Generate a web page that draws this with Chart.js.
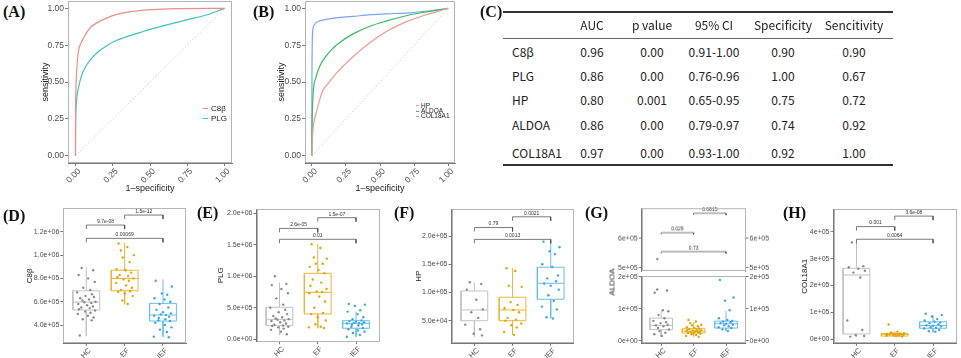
<!DOCTYPE html>
<html><head><meta charset="utf-8">
<script src="https://cdn.jsdelivr.net/npm/chart.js@4.4.1/dist/chart.umd.min.js"></script>
<style>
body{margin:0;background:#fff;width:961px;height:358px;position:relative;overflow:hidden;font-family:"Liberation Sans",Arial,sans-serif}
canvas{position:absolute}
.plab{position:absolute;font-family:"Liberation Serif","Times New Roman",serif;font-size:16px;font-weight:bold;line-height:16px;color:#111}
.leg{position:absolute;font-family:"Liberation Sans",Arial,sans-serif;color:#222;white-space:nowrap}
.leg i{display:inline-block;vertical-align:middle;border-top:1.2px solid;margin-right:3px}
.tc{position:absolute;font-family:"Noto Sans CJK SC","Noto Sans",sans-serif;font-size:12px;color:#222;white-space:nowrap;line-height:14px}
.tl{position:absolute;background:#333}
.ytit{position:absolute;font-size:8px;color:#222;transform:translate(-50%,-50%) rotate(-90deg);white-space:nowrap}
</style></head><body>
<script>
// ---------------- DATA ----------------
// ROC curves (1-specificity, sensitivity)
const rocC8bFpr  = [0,0.001,0.003,0.01,0.02,0.04,0.066,0.1,0.158,0.2,0.27,0.35,0.43,0.55,0.7,1];
const rocC8bSens = [0,0.3,0.44,0.6,0.71,0.77,0.82,0.87,0.91,0.93,0.957,0.975,0.985,0.993,0.998,1];
const rocPLGFpr  = [0,0.001,0.003,0.01,0.02,0.04,0.066,0.1,0.158,0.2,0.27,0.35,0.43,0.5,0.6,0.7,0.8,0.9,1];
const rocPLGSens = [0,0.2,0.3,0.4,0.46,0.54,0.6,0.65,0.71,0.74,0.78,0.81,0.835,0.857,0.885,0.91,0.935,0.962,1];
const rocHPFpr   = [0,0.003,0.01,0.035,0.08,0.12,0.18,0.3,0.43,0.55,0.67,0.8,0.92,1];
const rocHPSens  = [0,0.1,0.19,0.3,0.44,0.49,0.56,0.67,0.77,0.845,0.9,0.945,0.978,1];
const rocALDOAFpr  = [0,0.002,0.01,0.03,0.06,0.1,0.15,0.2,0.3,0.43,0.55,0.67,0.8,0.9,1];
const rocALDOASens = [0,0.2,0.42,0.53,0.61,0.67,0.725,0.765,0.825,0.88,0.915,0.945,0.97,0.985,1];
const rocCOLFpr  = [0,0.001,0.003,0.008,0.02,0.035,0.08,0.18,0.3,0.43,0.6,0.72,0.85,1];
const rocCOLSens = [0,0.5,0.75,0.86,0.89,0.905,0.92,0.935,0.945,0.957,0.965,0.97,0.982,1];
const rocTicks = [0,0.25,0.5,0.75,1];
const rocTickLabels = ["0.00","0.25","0.50","0.75","1.00"];

// Table (C)
const tableHeaders = ["AUC","p value","95% CI","Specificity","Sencitivity"];
const tableRowNames = ["C8β","PLG","HP","ALDOA","COL18A1"];
const tableAUC  = ["0.96","0.86","0.80","0.86","0.97"];
const tableP    = ["0.00","0.00","0.001","0.00","0.00"];
const tableCI   = ["0.91-1.00","0.76-0.96","0.65-0.95","0.79-0.97","0.93-1.00"];
const tableSpec = ["0.90","1.00","0.75","0.74","0.92"];
const tableSens = ["0.90","0.67","0.72","0.92","1.00"];

// Box plots: categories, stats [lower whisker, Q1, median, Q3, upper whisker], points
const groups = ["HC","EF","IEF"];
const groupTicks = [1,2,3];
const dStats = [[306000,529000,597000,694000,898000],[578000,694000,800000,870000,1106000],[300000,434000,486000,586000,792000]];
const dHC  = [890000,870000,830000,800000,770000,720000,700000,680000,665000,650000,640000,630000,620000,610000,600000,595000,590000,580000,570000,560000,550000,545000,535000,525000,515000,505000,495000,480000,465000,450000,440000,310000];
const dEF  = [1100000,1070000,1040000,1000000,980000,940000,880000,870000,850000,830000,820000,810000,800000,790000,780000,760000,740000,720000,700000,690000,685000,670000,650000,610000,580000];
const dIEF = [780000,730000,670000,660000,630000,620000,600000,580000,550000,530000,510000,500000,490000,485000,480000,470000,460000,450000,440000,435000,420000,400000,380000,360000,340000,300000,295000];
const dTicks = [400000,600000,800000,1000000,1200000];
const dTickLabels = ["4.0e+05","6.0e+05","8.0e+05","1.0e+06","1.2e+06"];
const dBrackets = [[1,2,1258000,"9.7e-08"],[2,3,1344000,"1.5e-12"],[1,3,1144000,"0.00069"]];

const eStats = [[68000,216000,317000,508000,900000],[175000,402000,746000,1047000,1513000],[41000,175000,254000,295000,438000]];
const eHC  = [1000000,880000,860000,800000,730000,650000,550000,500000,470000,430000,400000,370000,350000,330000,320000,310000,300000,290000,270000,250000,230000,220000,210000,200000,190000,170000,150000,120000,80000];
const eEF  = [1510000,1450000,1300000,1280000,1200000,1200000,1150000,1100000,1050000,950000,900000,850000,800000,760000,750000,730000,680000,600000,500000,420000,400000,350000,300000,240000,200000,190000,180000];
const eIEF = [560000,550000,530000,460000,440000,400000,350000,320000,300000,290000,280000,270000,260000,255000,250000,240000,230000,220000,200000,180000,160000,140000,120000,100000,70000,40000];
const eTicks = [0,500000,1000000,1500000,2000000];
const eTickLabels = ["0.0e+00","5.0e+05","1.0e+06","1.5e+06","2.0e+06"];
const eBrackets = [[1,2,1760000,"2.6e-05"],[2,3,1930000,"1.5e-07"],[1,3,1587000,"0.01"]];

const fStats = [[22000,50000,69000,102700,117400],[24700,50000,69000,91500,143000],[54000,88000,116300,144700,191300]];
const fHC  = [118000,115000,105000,87000,70000,65000,55000,43000,35000,27000,24000];
const fEF  = [143000,138000,112000,110000,83000,78000,72000,69000,65000,55000,52000,50000,45000,42000,38000,30000,25000];
const fIEF = [190000,180000,173000,168000,150000,145000,130000,125000,120000,116000,112000,105000,95000,85000,75000,70000,56000,54000];
const fTicks = [50000,100000,150000,200000];
const fTickLabels = ["5.0e+04","1.0e+05","1.5e+05","2.0e+05"];
const fBrackets = [[1,2,215000,"0.79"],[2,3,234000,"0.0021"],[1,3,194000,"0.0013"]];

const gStats = [[13400,34400,47800,70600,92500],[13000,24000,30000,37500,58000],[30000,39400,53000,61000,92500]];
const gHC  = [530000,160000,157000,150000,95000,92000,80000,70000,62000,58000,55000,50000,48000,45000,40000,35000,30000,25000,20000,15000];
const gEF  = [65000,60000,55000,50000,48000,45000,42000,40000,38000,37000,35000,34000,33000,32000,30000,30000,29000,28000,27000,26000,25000,24000,22000,20000,18000,15000,12000];
const gIEF = [190000,135000,125000,95000,70000,65000,62000,60000,58000,55000,53000,50000,48000,45000,42000,40000,35000,30000];
const gTopTicks = [500000,600000];
const gTopTickLabels = ["5e+05","6e+05"];
const gLowTicks = [0,100000,200000];
const gLowTickLabels = ["0e+00","1e+05","2e+05"];
const gBrackets = [[2,3,687000,"0.0015"],[1,2,620000,"0.029"],[1,3,555000,"0.73"]];

const hStats = [[10000,19700,239000,264000,360000],[10000,12000,18000,22000,30000],[26000,41000,51000,65000,90000]];
const hHC  = [360000,272000,268000,262000,255000,248000,230000,70000,35000,15000,12000,10000];
const hEF  = [55000,28000,25000,23000,22000,21000,20000,20000,19000,18000,18000,17000,16000,15000,14000,13000,12000,10000];
const hIEF = [95000,90000,85000,75000,70000,65000,62000,60000,55000,52000,50000,48000,45000,42000,40000,35000,30000,28000];
const hTicks = [0,100000,200000,300000,400000];
const hTickLabels = ["0e+00","1e+05","2e+05","3e+05","4e+05"];
const hBrackets = [[1,2,419000,"0.001"],[2,3,458000,"3.6e-08"],[1,3,372000,"0.0064"]];

// jitter offsets (category units)
const jitter = [-0.12,0.18,-0.2,0.05,0.22,-0.08,0.1,-0.24,0.15,-0.02,0.2,-0.16,0.07,-0.1,0.24,-0.05,0.13,-0.21,0.02,0.17,-0.13,0.09,-0.19,0.23,-0.03,0.11,-0.22,0.04,0.19,-0.09,0.14,-0.17,0.0,0.21,-0.06,0.08,-0.23,0.16,-0.11,0.06];

// ---------------- RENDER ----------------
Chart.defaults.font.family = '"Liberation Sans", Arial, sans-serif';
Chart.defaults.animation = false;
Chart.defaults.plugins.legend.display = false;
Chart.defaults.plugins.tooltip.enabled = false;
Chart.defaults.events = [];

const framePlugin = {
  id:'frame',
  afterDraw(chart){
    const a = chart.chartArea, ctx = chart.ctx;
    ctx.save(); ctx.strokeStyle = '#b5b5b5'; ctx.lineWidth = 1;
    ctx.strokeRect(Math.round(a.left)+0.5, Math.round(a.top)+0.5, Math.round(a.right-a.left)-1, Math.round(a.bottom-a.top)-1);
    ctx.restore();
  }
};
const labelPlugin = {
  id:'blabels',
  afterDatasetsDraw(chart, args, opts){
    if(!opts || !opts.items || !opts.items.length) return;
    const ctx = chart.ctx, xs = chart.scales.x, ys = chart.scales.y;
    ctx.save(); ctx.fillStyle = '#333'; ctx.font = '5px "Liberation Sans", Arial, sans-serif';
    ctx.textAlign = 'center'; ctx.textBaseline = 'bottom';
    opts.items.forEach(b => { ctx.fillText(b[3], xs.getPixelForValue((b[0]+b[1])/2), ys.getPixelForValue(b[2]) - 1); });
    ctx.restore();
  }
};
// rotated (45°) x tick labels, anchored by their top-right corner under each tick
const xLabelPlugin = {
  id:'xlab',
  afterDraw(chart, args, opts){
    if(!opts || !opts.labels) return;
    const ctx = chart.ctx, xs = chart.scales.x;
    ctx.save(); ctx.fillStyle = '#4d4d4d'; ctx.font = opts.size+'px "Liberation Sans", Arial, sans-serif';
    ctx.textAlign = 'right'; ctx.textBaseline = 'top';
    opts.values.forEach((v,i) => {
      ctx.save();
      ctx.translate(xs.getPixelForValue(v) + 1, xs.top + opts.gap);
      ctx.rotate(-Math.PI/4);
      ctx.fillText(opts.labels[i], 0, 0);
      ctx.restore();
    });
    ctx.restore();
  }
};

function mkCanvas(c){
  const cv = document.createElement('canvas');
  cv.width = c.w; cv.height = c.h;
  cv.style.left = c.x+'px'; cv.style.top = c.y+'px'; cv.style.width = c.w+'px'; cv.style.height = c.h+'px';
  document.body.appendChild(cv); return cv;
}
function zeroPad(s){ s.paddingLeft = s.paddingRight = s.paddingTop = s.paddingBottom = 0; }
function valScale(o){
  return {
    type:'linear', position:o.pos, min:o.min, max:o.max,
    afterBuildTicks: s => { s.ticks = o.ticks.map(v => ({value:v})); },
    afterFit: s => { if(o.horiz) s.height = o.size; else s.width = o.size; zeroPad(s); },
    ticks:{ display:!o.horiz, callback:(v,i) => o.labels[i], font:{size:o.fs}, color:'#4d4d4d', padding:1, autoSkip:false, minRotation:0, maxRotation:0 },
    grid:{ display:true, drawOnChartArea:false, drawTicks:true, tickLength:o.tl||3, color:'#555', tickColor:'#555', tickWidth:0.8 },
    border:{ display:true, color:'#555', width:0.8 },
    title: o.title ? {display:true, text:o.title, font:{size:o.tfs}, color:'#222', padding:0} : {display:false}
  };
}

function rocChart(c, f, lines){
  const cv = mkCanvas(c);
  const datasets = lines.map(l => ({data:l.fpr.map((x,i)=>({x:x, y:l.sens[i]})), borderColor:l.color, borderWidth:1.2,
      pointRadius:0, cubicInterpolationMode:'monotone', fill:false}));
  datasets.push({data:[{x:0,y:0},{x:1,y:1}], borderColor:'#c4c4c4', borderWidth:0.8, borderDash:[1.5,2], pointRadius:0});
  new Chart(cv, {type:'line', data:{datasets},
    options:{responsive:false, devicePixelRatio:1, animation:false,
      layout:{autoPadding:false, padding:{left:0, top:f.T-c.y, right:c.x+c.w-f.R, bottom:0}},
      scales:{
        x: valScale({pos:'bottom', horiz:true, size:c.y+c.h-f.B, min:-0.05, max:1.05, ticks:rocTicks, labels:rocTickLabels, title:'1\u2013specificity', tfs:9}),
        y: valScale({pos:'left', size:f.L-c.x, min:-0.05, max:1.05, ticks:rocTicks, labels:rocTickLabels, fs:8.5, title:'sensitivity', tfs:9})
      },
      plugins:{xlab:{values:rocTicks, labels:rocTickLabels, size:8.5, gap:4}}},
    plugins:[framePlugin, xLabelPlugin]});
}

rocChart({x:40,y:0,w:200,h:194},{L:68,T:1,R:232,B:163},[
  {fpr:rocC8bFpr, sens:rocC8bSens, color:'#f08d85'},
  {fpr:rocPLGFpr, sens:rocPLGSens, color:'#3cc3c6'}]);
rocChart({x:276,y:0,w:184,h:194},{L:305,T:1,R:455,B:163},[
  {fpr:rocHPFpr, sens:rocHPSens, color:'#f09a92'},
  {fpr:rocALDOAFpr, sens:rocALDOASens, color:'#3cba64'},
  {fpr:rocCOLFpr, sens:rocCOLSens, color:'#7aa5f2'}]);

const grpColors = ['#8a8a8a','#e3a407','#3fa6e0'];
const boxColors = ['#c2c2c2','#e8b63e','#6abde9'];
const HALF = 0.35;

function boxDatasets(stats, pts, yMin, yMax){
  const ds = [];
  stats.forEach((s,g) => {
    const x = g+1, [lo,q1,md,q3,hi] = s;
    const gap = {x:x, y:null};
    const raw = [
      {x:x-HALF,y:q1},{x:x+HALF,y:q1},{x:x+HALF,y:q3},{x:x-HALF,y:q3},{x:x-HALF,y:q1}, gap,
      {x:x-HALF,y:md},{x:x+HALF,y:md}, gap,
      {x:x,y:q3},{x:x,y:hi}, gap, {x:x,y:q1},{x:x,y:lo}];
    const data = raw.map(p => (p.y!==null && (p.y<yMin || p.y>yMax)) ? {x:p.x,y:null} : p);
    ds.push({data, borderColor:boxColors[g], borderWidth:1, pointRadius:0, spanGaps:false, order:2});
  });
  pts.forEach((arr,g) => {
    const data = arr.filter(v => v>=yMin && v<=yMax).map((v,i) => ({x:g+1+jitter[(i+11*g)%jitter.length], y:v}));
    ds.push({data, showLine:false, pointRadius:1.2, pointBorderWidth:0, pointBackgroundColor:grpColors[g], order:0});
  });
  return ds;
}
function bracketDataset(br, yMin, yMax){
  const leg = 0.03*(yMax-yMin), data = [];
  br.forEach(b => { data.push({x:b[0],y:b[2]-leg},{x:b[0],y:b[2]},{x:b[1],y:b[2]},{x:b[1],y:b[2]-leg},{x:b[1],y:null}); });
  return {data, borderColor:'#444', borderWidth:0.7, pointRadius:0, spanGaps:false, order:1};
}

function boxChart(o){
  const c = o.c, f = o.f;
  const cv = mkCanvas(c);
  const datasets = boxDatasets(o.stats, o.pts, o.min, o.max);
  if(o.brackets) datasets.push(bracketDataset(o.brackets, o.min, o.max));
  const showX = o.showX!==false;
  const scales = {
    x: Object.assign(valScale({pos:'bottom', horiz:true, size:c.y+c.h-f.B, min:0.4, max:3.6, ticks:groupTicks, labels:groups, tl:2.5}), {display:showX}),
    y: valScale({pos:'left', size:f.L-c.x, min:o.min, max:o.max, ticks:o.ticks, labels:o.labels, fs:7, title:o.title, tfs:8})
  };
  if(o.right){
    scales.y2 = valScale({pos:'right', size:c.x+c.w-f.R, min:o.min, max:o.max, ticks:o.ticks, labels:o.labels, fs:7});
  }
  new Chart(cv, {type:'line', data:{datasets},
    options:{responsive:false, devicePixelRatio:1, animation:false,
      layout:{autoPadding:false, padding:{left:0, top:f.T-c.y, right:o.right?0:c.x+c.w-f.R, bottom:showX?0:c.y+c.h-f.B}},
      scales, plugins:{blabels:{items:o.brackets||[]}, xlab: showX ? {values:groupTicks, labels:groups, size:7.5, gap:3.5} : {}}},
    plugins:[framePlugin, labelPlugin, xLabelPlugin]});
}

boxChart({c:{x:25,y:198,w:167,h:160}, f:{L:63.3,T:208.3,R:186,B:343.3}, min:243000, max:1402000,
  stats:dStats, pts:[dHC,dEF,dIEF], ticks:dTicks, labels:dTickLabels, brackets:dBrackets, title:'C8\u03b2'});
boxChart({c:{x:216,y:198,w:169,h:160}, f:{L:256.5,T:209,R:379,B:341.7}, min:-38000, max:2068000,
  stats:eStats, pts:[eHC,eEF,eIEF], ticks:eTicks, labels:eTickLabels, brackets:eBrackets, title:'PLG'});
boxChart({c:{x:414,y:198,w:166,h:160}, f:{L:451.5,T:209.3,R:573.6,B:343.3}, min:10000, max:247300,
  stats:fStats, pts:[fHC,fEF,fIEF], ticks:fTicks, labels:fTickLabels, brackets:fBrackets, title:'HP'});
boxChart({c:{x:614,y:198,w:156,h:76.7}, f:{L:641.7,T:208.3,R:745.5,B:272.7}, min:488700, max:703300, right:true, showX:false,
  stats:gStats, pts:[gHC,gEF,gIEF], ticks:gTopTicks, labels:gTopTickLabels, brackets:gBrackets});
boxChart({c:{x:614,y:274,w:156,h:84}, f:{L:641.7,T:276,R:745.5,B:343.3}, min:-8100, max:202200, right:true,
  stats:gStats, pts:[gHC,gEF,gIEF], ticks:gLowTicks, labels:gLowTickLabels});
boxChart({c:{x:800,y:198,w:161,h:160}, f:{L:833.5,T:209.3,R:956,B:343.3}, min:-14900, max:483300,
  stats:hStats, pts:[hHC,hEF,hIEF], ticks:hTicks, labels:hTickLabels, brackets:hBrackets, title:'COL18A1'});

// ---- HTML text: panel labels, legends, table ----
function addDiv(cls, html, css){ const d=document.createElement('div'); d.className=cls; d.innerHTML=html; Object.assign(d.style, css); document.body.appendChild(d); return d; }
[['(A)',3,4],['(B)',253,4],['(C)',480,4],['(D)',3,208],['(E)',197,205],['(F)',394,205],['(G)',585,205],['(H)',783,205]]
  .forEach(p => addDiv('plab', p[0], {left:p[1]+'px', top:p[2]+'px'}));
addDiv('ytit','ALDOA',{left:'612px', top:'282px'});

// legends
[['C8\u03b2','#f08d85',104],['PLG','#3cc3c6',113.5]].forEach(l =>
  addDiv('leg', '<i style="width:5px;border-color:'+l[1]+'"></i>'+l[0], {left:'203px', top:l[2]+'px', fontSize:'8px', lineHeight:'9px'}));
[['HP','#f09a92',101.5],['ALDOA','#3cba64',106.8],['COL18A1','#7aa5f2',112.1]].forEach(l =>
  addDiv('leg', '<i style="width:3px;border-color:'+l[1]+';margin-right:2px"></i>'+l[0], {left:'416px', top:l[2]+'px', fontSize:'6.5px', lineHeight:'7px'}));

// table
const colX = [592,652,714,783,854];
const rowY = [52,76,100,125,153];
addDiv('tl','',{left:'503px', top:'11px', width:'390px', height:'1.6px'});
addDiv('tl','',{left:'503px', top:'38px', width:'390px', height:'0.8px', background:'#666'});
addDiv('tl','',{left:'503px', top:'164px', width:'390px', height:'1.6px'});
tableHeaders.forEach((h,i) => addDiv('tc', h, {left:(colX[i]-50)+'px', width:'100px', textAlign:'center', top:(25-7)+'px'}));
const cols = [tableAUC, tableP, tableCI, tableSpec, tableSens];
tableRowNames.forEach((r,j) => {
  addDiv('tc', r, {left:'512px', top:(rowY[j]-7)+'px'});
  cols.forEach((col,i) => addDiv('tc', col[j], {left:(colX[i]-50)+'px', width:'100px', textAlign:'center', top:(rowY[j]-7)+'px'}));
});
</script>
</body></html>
